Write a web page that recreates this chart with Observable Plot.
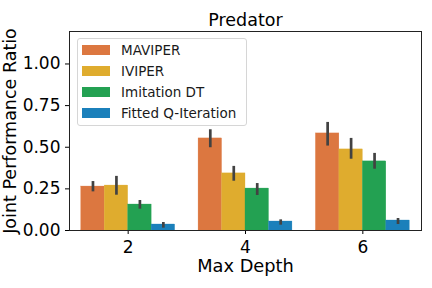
<!DOCTYPE html>
<html>
<head>
<meta charset="utf-8">
<script src="https://cdn.jsdelivr.net/npm/d3@7"></script>
<script src="https://cdn.jsdelivr.net/npm/@observablehq/plot@0.6"></script>
<style>
  html, body { margin: 0; padding: 0; background: white; }
  #wrap { position: relative; width: 432px; height: 288px; font-family: "DejaVu Sans", sans-serif; }
  #legend { position: absolute; left: 77px; top: 38px; width: 168px; height: 86px;
    border: 1px solid #d6d6d6; border-radius: 3px; background: rgba(255,255,255,0.8); box-sizing: content-box; }
  .row { position: absolute; left: 4px; height: 21px; display: flex; align-items: center; }
  .sw { width: 28px; height: 10px; margin-right: 11px; }
  .lab { font-size: 13.5px; color: #1a1a1a; white-space: nowrap; }
</style>
</head>
<body>
<div id="wrap"><div id="chart"></div><div id="legend"></div></div>
<script>
const depths = ["2", "4", "6"];
const methods = ["MAVIPER", "IVIPER", "Imitation DT", "Fitted Q-Iteration"];
const colors = ["#dc7740", "#dfac2e", "#23a152", "#1b80bb"];
const maviper = [0.264, 0.553, 0.583];
const maviperLo = [0.232, 0.497, 0.507];
const maviperHi = [0.294, 0.605, 0.649];
const iviper = [0.270, 0.343, 0.487];
const iviperLo = [0.212, 0.296, 0.428];
const iviperHi = [0.325, 0.385, 0.553];
const imitation = [0.156, 0.252, 0.415];
const imitationLo = [0.128, 0.210, 0.368];
const imitationHi = [0.180, 0.282, 0.463];
const fqi = [0.036, 0.054, 0.060];
const fqiLo = [0.014, 0.032, 0.036];
const fqiHi = [0.048, 0.064, 0.072];

const series = [[maviper, maviperLo, maviperHi], [iviper, iviperLo, iviperHi],
                [imitation, imitationLo, imitationHi], [fqi, fqiLo, fqiHi]];
const table = [];
series.forEach(([v, lo, hi], j) => {
  depths.forEach((d, i) => {
    const x1 = i - 0.4 + j * 0.2;
    table.push({method: methods[j], depth: d, x1, x2: x1 + 0.2, xc: x1 + 0.1, value: v[i], lo: lo[i], hi: hi[i]});
  });
});

const chart = Plot.plot({
  width: 432, height: 288,
  marginLeft: 69, marginRight: 11, marginTop: 31, marginBottom: 58,
  style: {fontSize: "17px", fontFamily: "DejaVu Sans", background: "white", color: "black"},
  x: {domain: [-0.5, 2.5], ticks: [0, 1, 2], tickFormat: i => depths[i], label: null, tickSize: 4, tickPadding: 6},
  y: {domain: [0, 1.195], ticks: [0, 0.25, 0.5, 0.75, 1], tickFormat: d3.format(".2f"), label: null, tickSize: 4, tickPadding: 5},
  color: {domain: methods, range: colors},
  marks: [
    Plot.rectY(table, {x1: "x1", x2: "x2", y: "value", fill: "method", stroke: "method", strokeWidth: 0.3}),
    Plot.ruleX(table, {x: "xc", y1: "lo", y2: "hi", stroke: "#424242", strokeWidth: 2.7}),
    Plot.frame({stroke: "#222", strokeWidth: 1}),
    Plot.text(["Predator"], {frameAnchor: "top", textAnchor: "middle", lineAnchor: "middle", dy: -11.5, fontSize: 17.5, fill: "black"}),
    Plot.text(["Max Depth"], {frameAnchor: "bottom", textAnchor: "middle", lineAnchor: "middle", dy: 36, fontSize: 17.8, fill: "black"}),
    Plot.text(["Joint Performance Ratio"], {frameAnchor: "left", textAnchor: "middle", lineAnchor: "middle", rotate: -90, dx: -59.5, fontSize: 17.5, fill: "black"})
  ]
});
document.getElementById("chart").appendChild(chart);

const legend = document.getElementById("legend");
methods.forEach((m, j) => {
  const row = document.createElement("div");
  row.className = "row";
  row.style.top = (0.5 + j * 21) + "px";
  row.innerHTML = `<div class="sw" style="background:${colors[j]}"></div><div class="lab">${m}</div>`;
  legend.appendChild(row);
});
</script>
</body>
</html>
